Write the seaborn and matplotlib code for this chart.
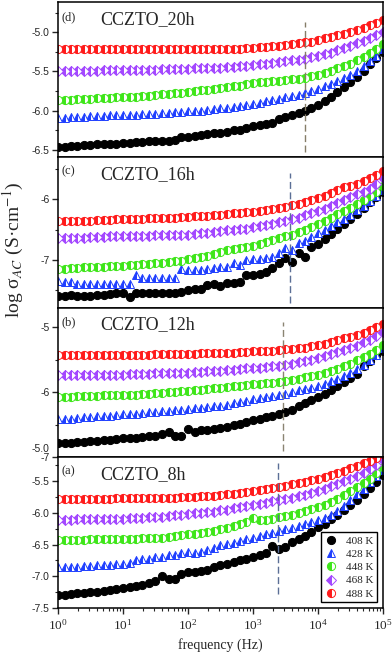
import numpy as np
import pandas as pd
import matplotlib
matplotlib.use("Agg")
import matplotlib.pyplot as plt
import matplotlib.ticker as mticker
import matplotlib.transforms as mtrans
import seaborn as sns

# frequency grid (Hz), 10 points per decade
freq = [1, 1.259, 1.585, 1.995, 2.512, 3.162, 3.981, 5.012, 6.31, 7.943,
        10, 12.59, 15.85, 19.95, 25.12, 31.62, 39.81, 50.12, 63.1, 79.43,
        100, 125.9, 158.5, 199.5, 251.2, 316.2, 398.1, 501.2, 631, 794.3,
        1000, 1259, 1585, 1995, 2512, 3162, 3981, 5012, 6310, 7943,
        10000, 12590, 15850, 19950, 25120, 31620, 39810, 50120, 63100, 79430, 100000]

temps = ["408 K", "428 K", "448 K", "468 K", "488 K"]

# (d) CCZTO_20h
d_408 = [-6.46, -6.46, -6.45, -6.45, -6.44, -6.44, -6.43, -6.43, -6.42, -6.42,
         -6.41, -6.41, -6.40, -6.40, -6.39, -6.39, -6.38, -6.38, -6.37, -6.33,
         -6.33, -6.32, -6.31, -6.30, -6.29, -6.28, -6.27, -6.25, -6.24, -6.22,
         -6.20, -6.18, -6.17, -6.16, -6.10, -6.08, -6.06, -6.03, -6.01, -5.97,
         -5.93, -5.88, -5.82, -5.76, -5.70, -5.64, -5.57, -5.49, -5.41, -5.33, -5.25]
d_428 = [-6.09, -6.09, -6.08, -6.08, -6.08, -6.07, -6.07, -6.07, -6.06, -6.06,
         -6.06, -6.05, -6.05, -6.04, -6.04, -6.04, -6.03, -6.03, -6.02, -6.02,
         -6.01, -6.00, -6.00, -5.99, -5.98, -5.97, -5.96, -5.95, -5.94, -5.93,
         -5.92, -5.90, -5.88, -5.87, -5.85, -5.83, -5.81, -5.80, -5.78, -5.75,
         -5.72, -5.69, -5.66, -5.62, -5.58, -5.54, -5.49, -5.43, -5.37, -5.30, -5.21]
d_448 = [-5.86, -5.86, -5.86, -5.85, -5.85, -5.85, -5.84, -5.84, -5.84, -5.83,
         -5.83, -5.82, -5.82, -5.81, -5.81, -5.80, -5.79, -5.79, -5.78, -5.77,
         -5.76, -5.75, -5.74, -5.73, -5.72, -5.71, -5.70, -5.69, -5.68, -5.66,
         -5.65, -5.64, -5.63, -5.62, -5.62, -5.61, -5.60, -5.59, -5.58, -5.56,
         -5.54, -5.52, -5.49, -5.46, -5.43, -5.40, -5.36, -5.32, -5.27, -5.21, -5.15]
d_468 = [-5.49, -5.49, -5.49, -5.49, -5.49, -5.49, -5.49, -5.48, -5.48, -5.48,
         -5.48, -5.48, -5.48, -5.48, -5.48, -5.48, -5.47, -5.47, -5.47, -5.47,
         -5.47, -5.46, -5.46, -5.46, -5.45, -5.45, -5.44, -5.44, -5.43, -5.43,
         -5.42, -5.41, -5.40, -5.39, -5.38, -5.37, -5.36, -5.35, -5.34, -5.32,
         -5.30, -5.28, -5.26, -5.23, -5.20, -5.17, -5.14, -5.11, -5.07, -5.04, -5.00]
d_488 = [-5.21, -5.21, -5.21, -5.22, -5.22, -5.22, -5.22, -5.22, -5.22, -5.22,
         -5.22, -5.22, -5.22, -5.22, -5.22, -5.22, -5.22, -5.22, -5.22, -5.22,
         -5.22, -5.22, -5.22, -5.22, -5.22, -5.22, -5.21, -5.21, -5.21, -5.20,
         -5.20, -5.19, -5.19, -5.18, -5.17, -5.16, -5.15, -5.14, -5.13, -5.12,
         -5.10, -5.08, -5.06, -5.04, -5.02, -5.00, -4.97, -4.94, -4.91, -4.88, -4.84]

# (c) CCZTO_16h
c_408 = [-7.60, -7.59, -7.58, -7.60, -7.59, -7.59, -7.58, -7.57, -7.56, -7.55,
         -7.54, -7.61, -7.54, -7.55, -7.55, -7.55, -7.55, -7.55, -7.54, -7.52,
         -7.49, -7.48, -7.47, -7.41, -7.40, -7.42, -7.38, -7.37, -7.36, -7.25,
         -7.24, -7.23, -7.19, -7.13, -7.05, -6.97, -7.03, -6.88, -6.95, -6.78,
         -6.73, -6.65, -6.57, -6.48, -6.40, -6.32, -6.24, -6.14, -6.05, -5.96, -5.87]
c_428 = [-7.35, -7.36, -7.36, -7.39, -7.40, -7.40, -7.40, -7.40, -7.40, -7.40,
         -7.40, -7.39, -7.25, -7.29, -7.30, -7.30, -7.30, -7.30, -7.29, -7.15,
         -7.17, -7.17, -7.16, -7.14, -7.13, -7.12, -7.11, -7.05, -7.08, -7.00,
         -6.99, -6.98, -6.97, -6.95, -6.88, -6.80, -6.84, -6.72, -6.68, -6.62,
         -6.56, -6.51, -6.44, -6.38, -6.32, -6.25, -6.18, -6.10, -6.02, -5.95, -5.84]
c_448 = [-7.14, -7.14, -7.13, -7.13, -7.12, -7.12, -7.11, -7.11, -7.10, -7.10,
         -7.09, -7.08, -7.08, -7.07, -7.06, -7.05, -7.04, -7.03, -7.02, -7.01,
         -6.99, -6.97, -6.95, -6.93, -6.90, -6.87, -6.84, -6.82, -6.80, -6.78,
         -6.76, -6.73, -6.70, -6.67, -6.64, -6.61, -6.58, -6.53, -6.50, -6.45,
         -6.41, -6.35, -6.30, -6.24, -6.19, -6.14, -6.07, -6.01, -5.95, -5.88, -5.77]
c_468 = [-6.64, -6.64, -6.63, -6.63, -6.63, -6.62, -6.62, -6.62, -6.61, -6.61,
         -6.61, -6.60, -6.60, -6.60, -6.60, -6.59, -6.59, -6.59, -6.59, -6.58,
         -6.58, -6.57, -6.56, -6.55, -6.54, -6.52, -6.51, -6.50, -6.49, -6.48,
         -6.46, -6.44, -6.42, -6.40, -6.37, -6.35, -6.33, -6.30, -6.26, -6.23,
         -6.19, -6.15, -6.11, -6.06, -6.01, -5.96, -5.91, -5.87, -5.82, -5.74, -5.65]
c_488 = [-6.36, -6.36, -6.36, -6.35, -6.35, -6.35, -6.34, -6.34, -6.34, -6.33,
         -6.33, -6.33, -6.32, -6.32, -6.31, -6.31, -6.30, -6.30, -6.30, -6.29,
         -6.29, -6.28, -6.28, -6.27, -6.26, -6.25, -6.24, -6.23, -6.22, -6.21,
         -6.20, -6.19, -6.18, -6.16, -6.14, -6.12, -6.09, -6.07, -6.04, -6.01,
         -5.98, -5.94, -5.90, -5.85, -5.80, -5.77, -5.74, -5.70, -5.65, -5.59, -5.53]

# (b) CCZTO_12h
b_408 = [-6.79, -6.79, -6.78, -6.77, -6.77, -6.76, -6.75, -6.74, -6.73, -6.72,
         -6.71, -6.71, -6.70, -6.69, -6.68, -6.67, -6.65, -6.62, -6.67, -6.68,
         -6.57, -6.62, -6.59, -6.58, -6.57, -6.55, -6.53, -6.51, -6.49, -6.46,
         -6.43, -6.41, -6.39, -6.36, -6.33, -6.30, -6.27, -6.22, -6.17, -6.12,
         -6.08, -6.03, -5.96, -5.90, -5.84, -5.78, -5.72, -5.60, -5.52, -5.42, -5.36]
b_428 = [-6.42, -6.42, -6.41, -6.40, -6.39, -6.38, -6.37, -6.36, -6.36, -6.35,
         -6.34, -6.33, -6.33, -6.32, -6.31, -6.30, -6.29, -6.29, -6.28, -6.27,
         -6.26, -6.25, -6.24, -6.23, -6.22, -6.21, -6.19, -6.17, -6.15, -6.13,
         -6.11, -6.09, -6.07, -6.06, -6.04, -6.02, -6.00, -5.97, -5.95, -5.93,
         -5.90, -5.87, -5.83, -5.79, -5.75, -5.70, -5.64, -5.58, -5.50, -5.42, -5.32]
b_448 = [-6.07, -6.07, -6.07, -6.06, -6.06, -6.06, -6.06, -6.05, -6.05, -6.05,
         -6.05, -6.04, -6.04, -6.03, -6.02, -6.01, -6.01, -6.00, -5.99, -5.98,
         -5.98, -5.97, -5.96, -5.95, -5.94, -5.93, -5.92, -5.91, -5.90, -5.89,
         -5.88, -5.87, -5.86, -5.85, -5.84, -5.82, -5.81, -5.79, -5.77, -5.75,
         -5.73, -5.70, -5.67, -5.64, -5.60, -5.56, -5.51, -5.46, -5.41, -5.35, -5.27]
b_468 = [-5.74, -5.74, -5.74, -5.74, -5.74, -5.73, -5.73, -5.73, -5.73, -5.73,
         -5.73, -5.72, -5.72, -5.72, -5.72, -5.71, -5.71, -5.71, -5.70, -5.70,
         -5.70, -5.69, -5.69, -5.68, -5.67, -5.67, -5.66, -5.65, -5.64, -5.63,
         -5.63, -5.62, -5.61, -5.60, -5.59, -5.58, -5.56, -5.54, -5.52, -5.50,
         -5.47, -5.44, -5.41, -5.38, -5.35, -5.32, -5.28, -5.23, -5.19, -5.13, -5.07]
b_488 = [-5.42, -5.42, -5.42, -5.42, -5.42, -5.42, -5.42, -5.42, -5.42, -5.42,
         -5.42, -5.42, -5.42, -5.42, -5.42, -5.41, -5.41, -5.41, -5.41, -5.41,
         -5.41, -5.41, -5.40, -5.40, -5.40, -5.39, -5.39, -5.39, -5.38, -5.38,
         -5.37, -5.37, -5.36, -5.36, -5.35, -5.34, -5.33, -5.32, -5.31, -5.29,
         -5.27, -5.25, -5.23, -5.20, -5.17, -5.14, -5.11, -5.08, -5.04, -4.99, -4.94]

# (a) CCZTO_8h
a_408 = [-7.29, -7.29, -7.28, -7.27, -7.26, -7.25, -7.24, -7.23, -7.21, -7.20,
         -7.18, -7.17, -7.15, -7.13, -7.10, -7.07, -6.99, -7.04, -7.05, -6.96,
         -6.94, -6.93, -6.92, -6.90, -6.86, -6.82, -6.80, -6.77, -6.75, -6.73,
         -6.70, -6.67, -6.64, -6.53, -6.57, -6.54, -6.46, -6.42, -6.36, -6.30,
         -6.22, -6.17, -6.10, -6.03, -5.96, -5.88, -5.80, -5.71, -5.61, -5.51, -5.40]
a_428 = [-6.86, -6.86, -6.85, -6.85, -6.84, -6.84, -6.83, -6.83, -6.82, -6.81,
         -6.80, -6.79, -6.75, -6.73, -6.72, -6.70, -6.69, -6.67, -6.66, -6.64,
         -6.62, -6.63, -6.61, -6.58, -6.55, -6.51, -6.49, -6.47, -6.44, -6.42,
         -6.40, -6.37, -6.34, -6.31, -6.29, -6.26, -6.24, -6.21, -6.18, -6.15,
         -6.12, -6.08, -6.03, -5.97, -5.89, -5.80, -5.71, -5.62, -5.52, -5.42, -5.33]
a_448 = [-6.43, -6.43, -6.43, -6.43, -6.43, -6.42, -6.42, -6.42, -6.42, -6.41,
         -6.41, -6.41, -6.41, -6.40, -6.40, -6.39, -6.39, -6.38, -6.37, -6.35,
         -6.34, -6.33, -6.31, -6.30, -6.28, -6.26, -6.24, -6.21, -6.17, -6.15,
         -6.08, -6.12, -6.11, -6.09, -6.07, -6.05, -6.03, -6.00, -5.97, -5.94,
         -5.91, -5.87, -5.83, -5.78, -5.72, -5.66, -5.60, -5.53, -5.46, -5.37, -5.27]
a_468 = [-6.11, -6.11, -6.11, -6.10, -6.10, -6.10, -6.10, -6.09, -6.09, -6.09,
         -6.09, -6.08, -6.08, -6.08, -6.07, -6.07, -6.06, -6.05, -6.04, -6.03,
         -6.02, -6.01, -6.00, -5.99, -5.98, -5.96, -5.95, -5.93, -5.91, -5.90,
         -5.88, -5.86, -5.84, -5.82, -5.80, -5.78, -5.76, -5.74, -5.72, -5.69,
         -5.65, -5.62, -5.58, -5.54, -5.50, -5.46, -5.42, -5.37, -5.31, -5.24, -5.17]
a_488 = [-5.78, -5.78, -5.78, -5.78, -5.78, -5.78, -5.78, -5.78, -5.78, -5.77,
         -5.77, -5.77, -5.77, -5.77, -5.77, -5.76, -5.76, -5.76, -5.76, -5.75,
         -5.75, -5.75, -5.74, -5.74, -5.73, -5.72, -5.71, -5.70, -5.69, -5.67,
         -5.66, -5.64, -5.63, -5.61, -5.59, -5.57, -5.55, -5.53, -5.51, -5.48,
         -5.46, -5.43, -5.40, -5.37, -5.34, -5.30, -5.26, -5.22, -5.18, -5.13, -5.08]

# dashed marker lines: frequency and vertical span, per panel (d, c, b, a)
vline_freq = [6300, 3650, 2880, 2450]
vline_lo = [-6.53, -7.71, -6.90, -7.28]
vline_hi = [-4.87, -5.57, -4.92, -5.21]

sns.set_style("ticks")
plt.rcParams["font.family"] = ["Liberation Serif", "DejaVu Serif"]
plt.rcParams["mathtext.fontset"] = "stix"
plt.rcParams["axes.unicode_minus"] = False

colors = ["black", "#1f3fff", "#3ee619", "#a347ff", "#ff1a1a"]
markers = ["o", "^", "o", "D", "o"]
msizes = [5.9, 5.7, 5.9, 4.7, 5.9]

panels = [
    ("(d)", "CCZTO_20h", [d_408, d_428, d_448, d_468, d_488], (-6.59, -4.615),
     [-6.5, -6.0, -5.5, -5.0], 0.25, "%.1f", "#857d68"),
    ("(c)", "CCZTO_16h", [c_408, c_428, c_448, c_468, c_488], (-7.79, -5.30),
     [-7, -6], 0.5, "%d", "#5b6f96"),
    ("(b)", "CCZTO_12h", [b_408, b_428, b_448, b_468, b_488], (-7.0, -4.70),
     [-7, -6, -5], 0.5, "%d", "#8a8472"),
    ("(a)", "CCZTO_8h", [a_408, a_428, a_448, a_468, a_488], (-7.5, -5.12),
     [-7.5, -7.0, -6.5, -6.0, -5.5], 0.25, "%.1f", "#5b6f96"),
]

fig = plt.figure(figsize=(3.92, 6.56), dpi=100)
gs = fig.add_gridspec(4, 1, height_ratios=[155, 151, 149, 151], hspace=0,
                      left=58 / 392, right=383 / 392, top=654 / 656, bottom=48 / 656)

axes = []
for i, (tag, name, series, ylim, yt, ymin, fmt, vcol) in enumerate(panels):
    ax = fig.add_subplot(gs[i, 0], sharex=axes[0] if axes else None)
    axes.append(ax)
    handles = []
    for vals, c, m, ms, t in zip(series, colors, markers, msizes, temps):
        df = pd.DataFrame({"freq": freq, "sigma": vals})
        fs = "full" if c == "black" else "left"
        sns.lineplot(data=df, x="freq", y="sigma", ax=ax, estimator=None, sort=False,
                     color=c, linestyle="", marker=m, markersize=ms, fillstyle=fs,
                     markerfacecolor=c, markerfacecoloralt="white",
                     markeredgecolor=c, markeredgewidth=0.7)
        handles.append(ax.lines[-1])
    ax.vlines(vline_freq[i], vline_lo[i], vline_hi[i], colors=vcol,
              linestyles=(0, (5, 2.5)), linewidth=1.0)
    ax.set_xscale("log")
    ax.set_xlim(1, 1e5)
    ax.set_ylim(*ylim)
    ax.set_yticks(yt)
    ax.yaxis.set_major_formatter(mticker.FormatStrFormatter(fmt))
    ax.yaxis.set_minor_locator(mticker.MultipleLocator(ymin))
    ax.set_xlabel("")
    ax.set_ylabel("")
    ax.tick_params(axis="y", which="major", direction="out", length=4, width=1,
                   labelsize=7.5, labelfontfamily="Liberation Sans", pad=2)
    ax.tick_params(axis="y", which="minor", direction="out", length=2.2, width=0.8)
    for s in ax.spines.values():
        s.set_linewidth(1.1)
        s.set_color("black")
    ax.text(0.01, 0.885, tag, transform=ax.transAxes, fontsize=9, va="baseline")
    ax.text(0.13, 0.855, name, transform=ax.transAxes, fontsize=13, va="baseline")
    if i < 3:
        ax.tick_params(axis="x", which="both", bottom=False, labelbottom=False)
    else:
        ax.tick_params(axis="x", which="major", direction="out", length=4, width=1,
                       labelsize=9.5, pad=3)
        ax.tick_params(axis="x", which="minor", direction="out", length=2.2, width=0.8)
        ax.xaxis.set_major_locator(mticker.LogLocator(base=10, numticks=10))
        ax.xaxis.set_minor_locator(mticker.LogLocator(base=10, subs=np.arange(2, 10), numticks=10))
        ax.xaxis.set_minor_formatter(mticker.NullFormatter())
        ax.set_xlabel("frequency (Hz)", fontsize=10, labelpad=4)
        # stray top label of the lowest panel, drawn above its frame in the original
        trans = mtrans.blended_transform_factory(ax.transAxes, ax.transData)
        ax.text(-0.025, -5.0, "-5.0", transform=trans, ha="right", va="center",
                fontsize=7.5, fontfamily="Liberation Sans", clip_on=False)
        leg = ax.legend(handles, temps, loc="lower right", bbox_to_anchor=(1.0, 0.0),
                        borderaxespad=0.5, fontsize=8, frameon=True, fancybox=False,
                        framealpha=1, edgecolor="black", handlelength=1.0,
                        handletextpad=0.9, labelspacing=0.3, borderpad=0.35)
        leg.get_frame().set_linewidth(1.0)

fig.text(13 / 392, 1 - 250 / 656, r"log σ$_{AC}$ (S·cm$^{-1}$)", rotation=90,
         ha="center", va="center", fontsize=14)

fig.savefig("out.png", dpi=100)
